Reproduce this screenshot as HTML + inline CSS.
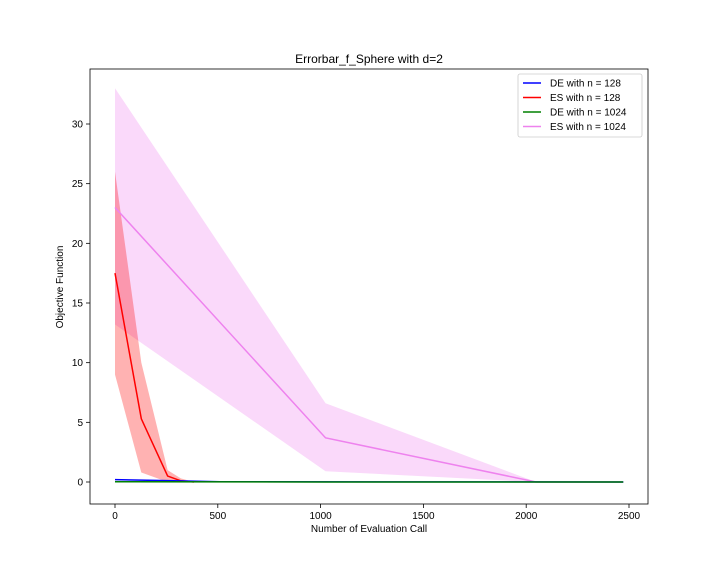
<!DOCTYPE html>
<html><head><meta charset="utf-8">
<style>
body{margin:0;background:#fff;font-family:"Liberation Sans",sans-serif;}
svg text{font-family:"Liberation Sans",sans-serif;}
</style></head>
<body>
<svg id="chart" width="720" height="576" xmlns="http://www.w3.org/2000/svg">
<rect width="720" height="576" fill="#fff"/>
<text x="369" y="63" text-anchor="middle" font-size="12">Errorbar_f_Sphere with d=2</text>
<g id="plot"></g>
<rect x="90" y="69" width="558" height="435" fill="none" stroke="#000" stroke-width="0.8"/>
<text x="369" y="532" text-anchor="middle" font-size="10">Number of Evaluation Call</text>
<text x="0" y="0" text-anchor="middle" font-size="10" transform="translate(63,287) rotate(-90)">Objective Function</text>
<g id="legend">
<rect x="518" y="74" width="124" height="63" rx="2" fill="#fff" stroke="#ccc" stroke-width="0.8"/>
</g>
</svg>
<script>
const xTicks=[0,500,1000,1500,2000,2500];
const yTicks=[0,5,10,15,20,25,30];
const es1024X=[0,1024,2048,2472];
const es1024Mean=[23,3.7,0,0];
const es1024Lo=[13.2,0.9,0,0];
const es1024Hi=[33,6.6,0,0];
const es128X=[0,128,256,320,384];
const es128Mean=[17.5,5.3,0.5,0.1,0];
const es128Lo=[9,0.8,0,0,0];
const es128Hi=[26,10,1,0.3,0];
const de128X=[0,256,512,2472];
const de128Mean=[0.2,0.12,0.02,0];
const de1024X=[0,1024,2048,2472];
const de1024Mean=[0.02,0,0,0];
const sx=v=>115+v*(629-115)/2500;
const sy=v=>482-v*(482-124)/30;
const NS="http://www.w3.org/2000/svg";
const plot=document.getElementById('plot');
function mk(tag,attrs,parent){const e=document.createElementNS(NS,tag);for(const k in attrs)e.setAttribute(k,attrs[k]);(parent||plot).appendChild(e);return e;}
xTicks.forEach(t=>{
 const l=mk('line',{x1:sx(t),x2:sx(t),y1:504,y2:508,stroke:'#000','stroke-width':0.8});
 
 
 const tx=mk('text',{x:sx(t),y:519,'text-anchor':'middle','font-size':10});
 tx.textContent=t;
 
 
});
yTicks.forEach(t=>{
 const l=mk('line',{x1:86,x2:90,y1:sy(t),y2:sy(t),stroke:'#000','stroke-width':0.8});
 
 
 const tx=mk('text',{x:83,y:sy(t)+3.5,'text-anchor':'end','font-size':10});
 tx.textContent=t;
 
 
});
function band(xs,lo,hi,color,op,name){
 let pts=xs.map((x,i)=>sx(x)+','+sy(hi[i]));
 for(let i=xs.length-1;i>=0;i--)pts.push(sx(xs[i])+','+sy(lo[i]));
 const p=mk('polygon',{points:pts.join(' '),fill:color,'fill-opacity':op});
 
 
}
function line(xs,ys,color,name,w){
 const p=mk('polyline',{points:xs.map((x,i)=>sx(x)+','+sy(ys[i])).join(' '),fill:'none',stroke:color,'stroke-width':w||1.5});
 
 
}
band(es1024X,es1024Lo,es1024Hi,'#ee82ee',0.3,'es-1024-band');
band(es128X,es128Lo,es128Hi,'#ff0000',0.3,'es-128-band');
line(es1024X,es1024Mean,'#ee82ee','es-1024-line');
line(es128X,es128Mean,'#ff0000','es-128-line');
line(de128X,de128Mean,'#0000ff','de-128-line');
line(de1024X,de1024Mean,'#008000','de-1024-line');
const leg=document.getElementById('legend');
const entries=[['DE with n = 128','#0000ff'],['ES with n = 128','#ff0000'],['DE with n = 1024','#008000'],['ES with n = 1024','#ee82ee']];
entries.forEach((e,i)=>{
 const y=86+i*14.5;
 const g=mk('g',{},leg);
 
 
 mk('line',{x1:523,x2:541,y1:y-3,y2:y-3,stroke:e[1],'stroke-width':1.5},g);
 const t=mk('text',{x:550,y:y+0.5,'font-size':10},g);
 t.textContent=e[0];
});
</script>
</body></html>
